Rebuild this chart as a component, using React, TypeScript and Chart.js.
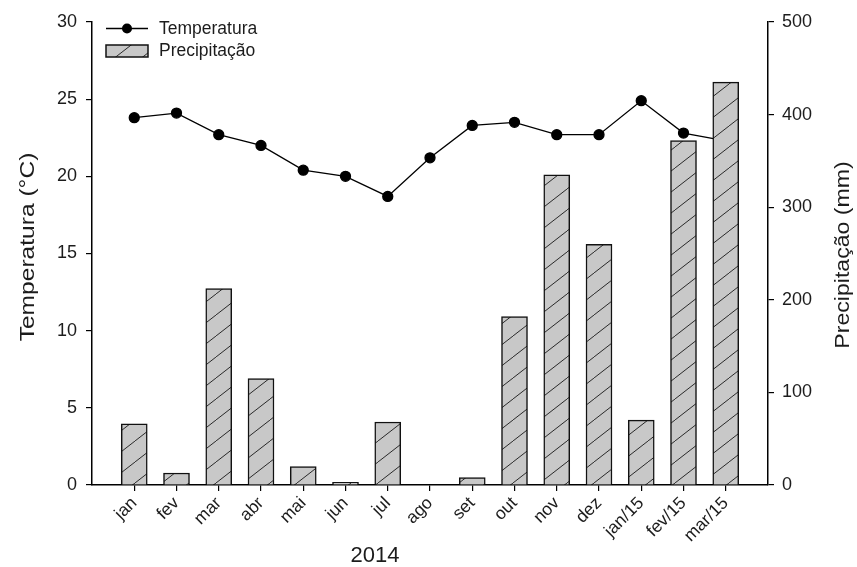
import React, { useEffect, useRef } from 'react';
import { Chart, registerables } from 'chart.js';

Chart.register(...registerables);

const categories = ['jan', 'fev', 'mar', 'abr', 'mai', 'jun', 'jul', 'ago', 'set', 'out', 'nov', 'dez', 'jan/15', 'fev/15', 'mar/15'];
const temperatura = [23.8, 24.1, 22.7, 22.0, 20.4, 20.0, 18.7, 21.2, 23.3, 23.5, 22.7, 22.7, 24.9, 22.8, 22.3];
const precipitacao = [66, 13, 212, 115, 20, 3, 68, 0, 8, 182, 335, 260, 70, 372, 435];

const FONT = 'Arial, "Liberation Sans", sans-serif';
const TEXT = '#1c1c1c';

function makeHatch(): CanvasPattern | string {
  const w = 27, h = 21;
  const c = document.createElement('canvas');
  c.width = w; c.height = h;
  const g = c.getContext('2d');
  if (!g) return '#c8c8c8';
  g.fillStyle = '#c8c8c8';
  g.fillRect(0, 0, w, h);
  g.strokeStyle = '#2a2a2a';
  g.lineWidth = 1;
  g.beginPath();
  g.moveTo(-w, 2 * h);
  g.lineTo(2 * w, -h);
  g.stroke();
  return g.createPattern(c, 'repeat') || '#c8c8c8';
}

export default function App() {
  const ref = useRef<HTMLCanvasElement>(null);

  useEffect(() => {
    if (!ref.current) return;
    const hatch = makeHatch();

    const decor = {
      id: 'decor',
      afterDraw(chart: any) {
        const ctx: CanvasRenderingContext2D = chart.ctx;
        ctx.save();
        // legend
        ctx.strokeStyle = '#000';
        ctx.lineWidth = 1.3;
        ctx.beginPath();
        ctx.moveTo(106, 28.5);
        ctx.lineTo(148, 28.5);
        ctx.stroke();
        ctx.fillStyle = '#000';
        ctx.beginPath();
        ctx.arc(127, 28.5, 5, 0, Math.PI * 2);
        ctx.fill();
        ctx.fillStyle = hatch as any;
        ctx.fillRect(106, 45, 42, 12);
        ctx.lineWidth = 1.5;
        ctx.strokeStyle = '#111';
        ctx.strokeRect(106, 45, 42, 12);
        ctx.fillStyle = TEXT;
        ctx.font = `17.5px ${FONT}`;
        ctx.textAlign = 'left';
        ctx.textBaseline = 'middle';
        ctx.fillText('Temperatura', 159, 29);
        ctx.fillText('Precipitação', 159, 51);

        // x title
        ctx.font = `22px ${FONT}`;
        ctx.textAlign = 'center';
        ctx.fillText('2014', 375, 556);

        // left title
        ctx.save();
        ctx.translate(28, 247);
        ctx.rotate(-Math.PI / 2);
        ctx.scale(1.17, 1);
        ctx.font = `21px ${FONT}`;
        ctx.textAlign = 'center';
        ctx.fillText('Temperatura (°C)', 0, 0);
        ctx.restore();

        // right title
        ctx.save();
        ctx.translate(843, 255);
        ctx.rotate(-Math.PI / 2);
        ctx.scale(1.1, 1);
        ctx.font = `21px ${FONT}`;
        ctx.textAlign = 'center';
        ctx.fillText('Precipitação (mm)', 0, 0);
        ctx.restore();

        ctx.restore();
      },
    };

    const axisGrid = { drawOnChartArea: false, drawTicks: true, tickLength: 6, color: '#000', lineWidth: 1.2, offset: false };
    const axisBorder = { display: true, color: '#000', width: 1.5 };

    const chart = new Chart(ref.current, {
      type: 'bar',
      data: {
        datasets: [
          {
            type: 'line',
            label: 'Temperatura',
            data: categories.map((_, i) => ({ x: i + 1, y: temperatura[i] })),
            yAxisID: 'y',
            xAxisID: 'x',
            borderColor: '#000',
            borderWidth: 1.3,
            pointRadius: 5,
            pointBackgroundColor: '#000',
            pointBorderColor: '#000',
            tension: 0,
            order: 1,
          } as any,
          {
            type: 'bar',
            label: 'Precipitação',
            data: categories.map((_, i) => ({ x: i + 1, y: precipitacao[i] })),
            yAxisID: 'y1',
            xAxisID: 'x',
            backgroundColor: hatch as any,
            borderColor: '#111',
            borderWidth: 1.5,
            barThickness: 26,
            order: 0,
          } as any,
        ],
      },
      options: {
        animation: false,
        responsive: false,
        layout: { padding: { top: 22, left: 0, right: 0, bottom: 0 } },
        plugins: { legend: { display: false }, tooltip: { enabled: false } },
        scales: {
          x: {
            type: 'linear',
            offset: false,
            min: 0,
            max: 16,
            afterBuildTicks: (s: any) => {
              s.ticks = categories.map((_, i) => ({ value: i + 1 }));
            },
            afterFit: (s: any) => { s.height = 82; },
            ticks: {
              autoSkip: false,
              minRotation: 45,
              maxRotation: 45,
              padding: 2,
              color: TEXT,
              font: { family: FONT, size: 17.5 },
              callback: (v: any) => categories[Number(v) - 1] ?? '',
            },
            grid: axisGrid,
            border: axisBorder,
          },
          y: {
            type: 'linear',
            position: 'left',
            min: 0,
            max: 30,
            afterFit: (s: any) => { s.width = 92; },
            ticks: { stepSize: 5, padding: 9, color: TEXT, font: { family: FONT, size: 18 } },
            grid: axisGrid,
            border: axisBorder,
          },
          y1: {
            type: 'linear',
            position: 'right',
            min: 0,
            max: 500,
            afterFit: (s: any) => { s.width = 89; },
            ticks: { stepSize: 100, padding: 8, color: TEXT, font: { family: FONT, size: 18 } },
            grid: axisGrid,
            border: axisBorder,
          },
        },
      } as any,
      plugins: [decor],
    });

    return () => chart.destroy();
  }, []);

  return (
    <div style={{ position: 'absolute', left: 0, top: 0, width: 857, height: 567, background: '#fff' }}>
      <canvas ref={ref} width={857} height={567} style={{ display: 'block', width: 857, height: 567 }} />
    </div>
  );
}
